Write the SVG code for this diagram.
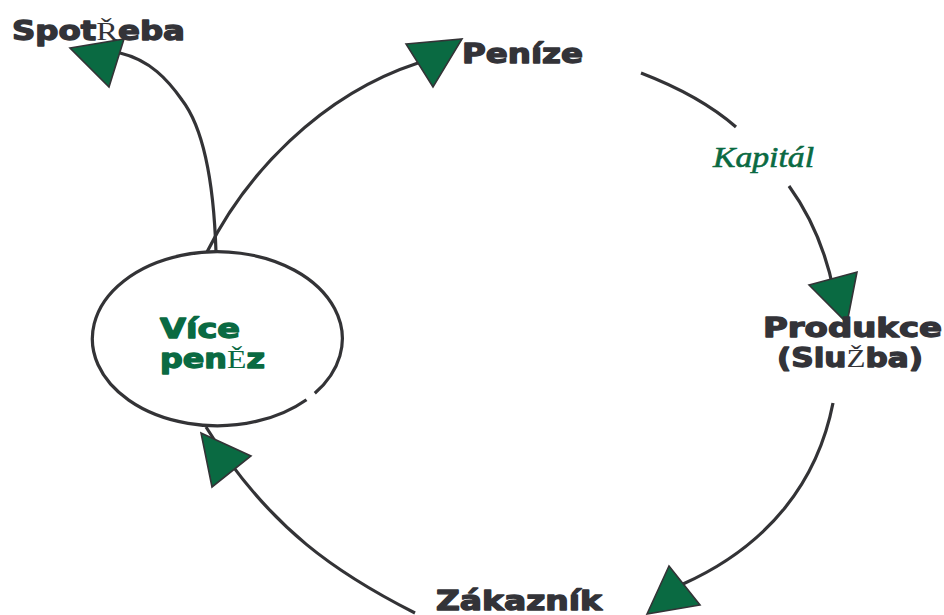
<svg xmlns="http://www.w3.org/2000/svg" width="944" height="615" viewBox="0 0 944 615">
  <style>
    .lbl { font-family: "DejaVu Sans", "Liberation Sans", sans-serif; font-weight: bold; font-size: 26px; fill: #333338; stroke: #333338; stroke-width: 1.3; stroke-linejoin: round; }
    .grn { fill: #0a6a42; stroke: #0a6a42; }
    .ser { font-family: "Liberation Serif", serif; font-weight: normal; stroke-width: 0; }
    .line { fill: none; stroke: #333336; stroke-width: 3.2; stroke-linecap: butt; }
    .head { fill: #0a6a42; stroke: #333336; stroke-width: 1.6; stroke-linejoin: miter; }
    .cap { font-family: "Liberation Serif", serif; font-style: italic; font-size: 30px; fill: #0a6a42; stroke: #0a6a42; stroke-width: 0.6; }
  </style>
  <rect width="944" height="615" fill="#ffffff"/>

  <!-- connectors -->
  <g id="connectors">
    <!-- to Spotřeba -->
    <path class="line" d="M216,252 C214,190 205,130 182,100 C168,80 150,60 120,53"/>
    <polygon class="head" points="70,48 124,39 109,87"/>
    <!-- to Peníze -->
    <path class="line" d="M207,252 C245,175 320,95 418,63"/>
    <polygon class="head" points="406,44 462,39 433,87"/>
    <!-- Peníze to Produkce, split around the Kapitál label -->
    <path class="line" d="M641,73 C680,88 712,106 736,127"/>
    <path class="line" d="M789,186 C810,215 826,252 834,292"/>
    <polygon class="head" points="809,285 857,272 847,323"/>
    <!-- Produkce to Zákazník -->
    <path class="line" d="M833,403 C818,480 770,545 683,584"/>
    <polygon class="head" points="647,614 669,566 700,605"/>
    <!-- Zákazník back to the loop -->
    <path class="line" d="M415,613 C340,575 270,530 206,427"/>
    <polygon class="head" points="201,433 251,456 212,487"/>
  </g>

  <!-- central node -->
  <g id="vice-penez">
    <path class="line" d="M306.5,399.7 A125,87 0 1 1 314.8,393.2"/>
    <text class="lbl grn" x="160" y="338" textLength="80" lengthAdjust="spacingAndGlyphs">Více</text>
    <text class="lbl grn" x="160" y="368" textLength="105" lengthAdjust="spacingAndGlyphs">pen<tspan class="ser">Ě</tspan>z</text>
  </g>

  <g id="spotreba">
    <text class="lbl" x="12" y="40" textLength="173" lengthAdjust="spacingAndGlyphs">Spot<tspan class="ser">Ř</tspan>eba</text>
  </g>

  <g id="penize">
    <text class="lbl" x="462" y="63" textLength="121" lengthAdjust="spacingAndGlyphs">Peníze</text>
  </g>

  <g id="kapital">
    <text class="cap" x="713" y="167" textLength="101" lengthAdjust="spacingAndGlyphs">Kapitál</text>
  </g>

  <g id="produkce">
    <text class="lbl" x="763" y="337" textLength="179" lengthAdjust="spacingAndGlyphs">Produkce</text>
    <text class="lbl" x="777" y="367" textLength="146" lengthAdjust="spacingAndGlyphs">(Slu<tspan class="ser">Ž</tspan>ba)</text>
  </g>

  <g id="zakaznik">
    <text class="lbl" x="436" y="610" textLength="166" lengthAdjust="spacingAndGlyphs">Zákazník</text>
  </g>
</svg>
